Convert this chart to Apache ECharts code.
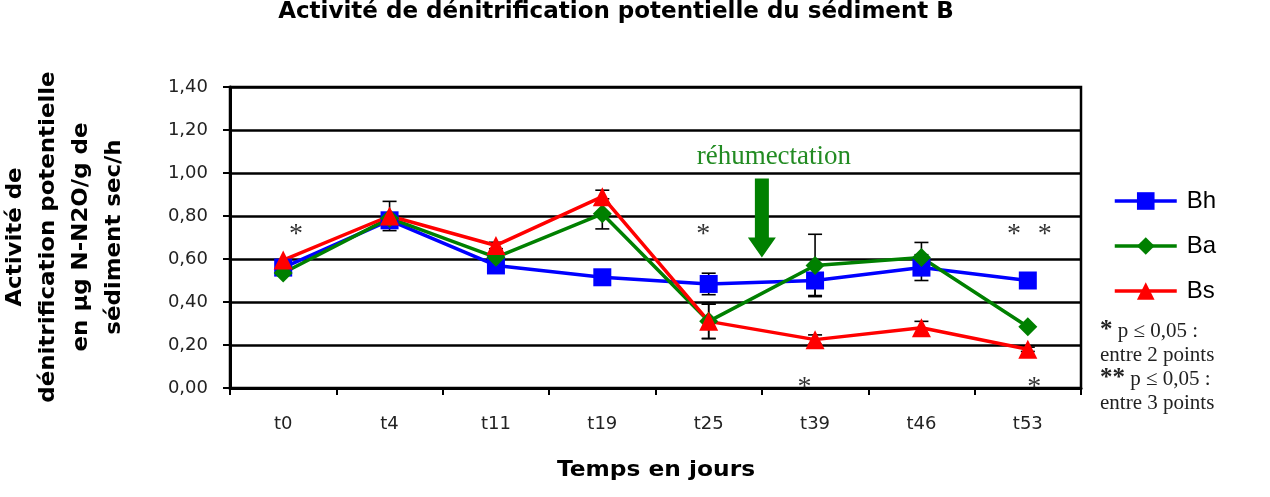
<!DOCTYPE html>
<html>
<head>
<meta charset="utf-8">
<script src="https://cdn.jsdelivr.net/npm/echarts@6/dist/echarts.min.js"></script>
<style>
    html, body { margin: 0; padding: 0; background: #fff; }
    #chart { width: 1270px; height: 497px; }
</style>
</head>
<body>
<div id="chart"></div>
<script>
// 数据
const categories = ['t0', 't4', 't11', 't19', 't25', 't39', 't46', 't53'];
const bhValues = [0.56, 0.78, 0.57, 0.515, 0.484, 0.50, 0.56, 0.50];
const baValues = [0.535, 0.79, 0.608, 0.81, 0.31, 0.57, 0.607, 0.285];
const bsValues = [0.595, 0.80, 0.663, 0.89, 0.31, 0.225, 0.28, 0.18];
const bhErrors = [0, 0, 0, 0, 0.05, 0.07, 0.06, 0];
const baErrors = [0, 0, 0, 0.07, 0.08, 0.145, 0.07, 0];
const bsErrors = [0, 0.068, 0.015, 0.03, 0.08, 0.022, 0.03, 0.01];
// 星号: [类别索引, 偏移(带宽比例), 数值]
const starMarks = [[0, 0.12, 0.73], [4, -0.05, 0.73], [7, -0.13, 0.73], [7, 0.16, 0.73], [5, -0.1, 0.02], [7, 0.06, 0.02]];
// 箭头: [起始类别, 顶部数值, 箭头起点数值, 尖端数值]
const arrowMark = [[4, 0.975, 0.70, 0.607]];

const chart = echarts.init(document.getElementById('chart'));

// 误差线
function errorSeries(values, errors) {
    const data = [];
    values.forEach((v, i) => {
        if (errors[i] > 0) data.push([i, v - errors[i], v + errors[i]]);
    });
    return {
        type: 'custom',
        z: 1,
        silent: true,
        data: data,
        renderItem: function(params, api) {
            const lo = api.coord([api.value(0), api.value(1)]);
            const hi = api.coord([api.value(0), api.value(2)]);
            const w = 7;
            const st = { stroke: '#000', lineWidth: 1.6 };
            return {
                type: 'group',
                children: [
                    { type: 'line', shape: { x1: lo[0], y1: lo[1], x2: hi[0], y2: hi[1] }, style: st },
                    { type: 'line', shape: { x1: lo[0] - w, y1: lo[1], x2: lo[0] + w, y2: lo[1] }, style: st },
                    { type: 'line', shape: { x1: hi[0] - w, y1: hi[1], x2: hi[0] + w, y2: hi[1] }, style: st }
                ]
            };
        }
    };
}

const noteFont = '21px "Liberation Serif"';
const noteRich = { a: { fontSize: 25, fontWeight: 'bold', fontFamily: 'Liberation Serif', fill: '#222' } };

const option = {
    animation: false,
    grid: {
        left: 230, right: 189, top: 87, bottom: 109,
        show: true, borderColor: '#000', borderWidth: 2.5
    },
    xAxis: {
        type: 'category',
        data: categories,
        boundaryGap: true,
        axisLine: { lineStyle: { color: '#000', width: 3 } },
        axisTick: { show: true, length: 7, lineStyle: { color: '#000', width: 2 } },
        axisLabel: { margin: 27, fontSize: 18, fontFamily: 'DejaVu Sans', color: '#222' }
    },
    yAxis: {
        type: 'value',
        min: 0, max: 1.4, interval: 0.2,
        axisLine: { show: true, lineStyle: { color: '#000', width: 3 } },
        axisTick: { show: true, length: 7, lineStyle: { color: '#000', width: 2 } },
        axisLabel: {
            margin: 22, fontSize: 18, fontFamily: 'DejaVu Sans', color: '#222',
            formatter: v => v.toFixed(2).replace('.', ',')
        },
        splitLine: { lineStyle: { color: '#000', width: 2.5 } }
    },
    legend: {
        data: ['Bh', 'Ba', 'Bs'],
        orient: 'vertical',
        left: 1108, top: 184,
        itemWidth: 62, itemHeight: 22, itemGap: 21,
        lineStyle: { width: 3.5 },
        textStyle: { fontSize: 24, fontFamily: 'Liberation Sans', color: '#000', padding: [0, 0, 0, 5] }
    },
    graphic: [
        {
            type: 'text', x: 616, y: 12,
            style: {
                text: 'Activité de dénitrification potentielle du sédiment B',
                font: 'bold 23px "DejaVu Sans"', fill: '#000', align: 'center', verticalAlign: 'middle'
            }
        },
        {
            type: 'text', x: 656, y: 470, scaleX: 1.06,
            style: {
                text: 'Temps en jours',
                font: 'bold 22px "DejaVu Sans"', fill: '#000', align: 'center', verticalAlign: 'middle'
            }
        },
        {
            type: 'text', x: 65, y: 237, rotation: Math.PI / 2, scaleX: 1.09,
            style: {
                text: 'Activité de\ndénitrification potentielle\nen µg N-N2O/g de\nsédiment sec/h',
                font: 'bold 21px "DejaVu Sans"', fill: '#000', align: 'center', verticalAlign: 'middle',
                lineHeight: 33
            }
        },
        {
            type: 'text', x: 1100, y: 331,
            style: { text: '{a|*} p ≤ 0,05 :', align: 'left', verticalAlign: 'middle', font: noteFont, fill: '#222', rich: noteRich }
        },
        {
            type: 'text', x: 1100, y: 355,
            style: { text: 'entre 2 points', font: noteFont, fill: '#222', align: 'left', verticalAlign: 'middle' }
        },
        {
            type: 'text', x: 1100, y: 379,
            style: { text: '{a|**} p ≤ 0,05 :', align: 'left', verticalAlign: 'middle', font: noteFont, fill: '#222', rich: noteRich }
        },
        {
            type: 'text', x: 1100, y: 403,
            style: { text: 'entre 3 points', font: noteFont, fill: '#222', align: 'left', verticalAlign: 'middle' }
        }
    ],
    series: [
        errorSeries(bhValues, bhErrors),
        errorSeries(baValues, baErrors),
        errorSeries(bsValues, bsErrors),
        {
            name: 'Bh', type: 'line', data: bhValues, z: 2,
            symbol: 'rect', symbolSize: 18,
            itemStyle: { color: '#0000FF' },
            lineStyle: { color: '#0000FF', width: 3.5 }
        },
        {
            name: 'Ba', type: 'line', data: baValues, z: 2,
            symbol: 'diamond', symbolSize: 19,
            itemStyle: { color: '#008000' },
            lineStyle: { color: '#008000', width: 3.5 }
        },
        {
            name: 'Bs', type: 'line', data: bsValues, z: 2,
            symbol: 'triangle', symbolSize: 19,
            itemStyle: { color: '#FF0000' },
            lineStyle: { color: '#FF0000', width: 3.5 }
        },
        {
            // 星号
            type: 'custom', z: 3, silent: true,
            data: starMarks,
            renderItem: function(params, api) {
                const p = api.coord([api.value(0), api.value(2)]);
                const band = api.size([1, 0])[0];
                return {
                    type: 'text',
                    style: {
                        text: '*', x: p[0] + api.value(1) * band, y: p[1] + 4,
                        font: '28px "Liberation Serif"', fill: '#333', align: 'center', verticalAlign: 'middle'
                    }
                };
            }
        },
        {
            // 箭头 réhumectation
            type: 'custom', z: 3, silent: true,
            data: arrowMark,
            renderItem: function(params, api) {
                const i = api.value(0);
                const top = api.coord([i, api.value(1)]);
                const next = api.coord([i + 1, api.value(1)]);
                const x = (top[0] + next[0]) / 2;
                const yTop = top[1];
                const yHead = api.coord([i, api.value(2)])[1];
                const yTip = api.coord([i, api.value(3)])[1];
                const sw = 7, hw = 14;
                return {
                    type: 'group',
                    children: [
                        {
                            type: 'polygon',
                            shape: { points: [[x - sw, yTop], [x + sw, yTop], [x + sw, yHead], [x + hw, yHead], [x, yTip], [x - hw, yHead], [x - sw, yHead]] },
                            style: { fill: '#008000' }
                        },
                        {
                            type: 'text',
                            style: {
                                text: 'réhumectation', x: x + 12, y: yTop - 21,
                                font: '27px "Liberation Serif"', fill: '#228B22', align: 'center', verticalAlign: 'middle'
                            }
                        }
                    ]
                };
            }
        }
    ]
};

chart.setOption(option);
</script>
</body>
</html>
